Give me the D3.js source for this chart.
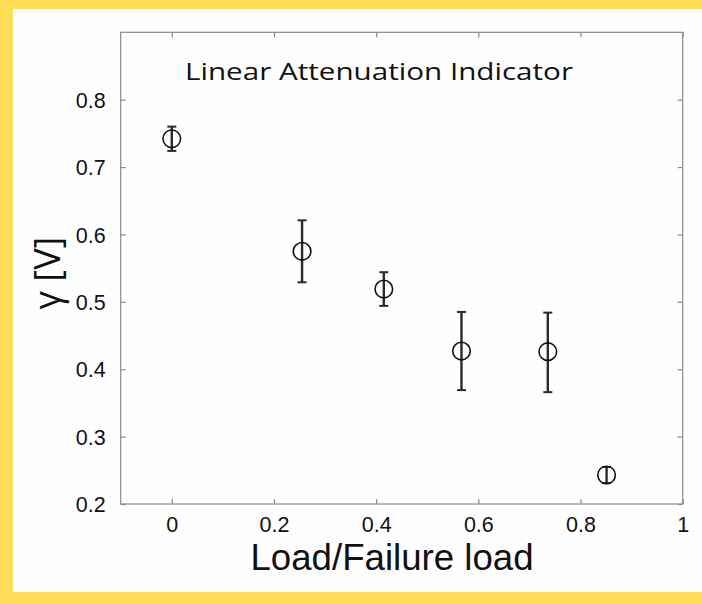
<!DOCTYPE html>
<html>
<head>
<meta charset="utf-8">
<script src="https://cdn.jsdelivr.net/npm/d3@7"></script>
<style>
  html, body { margin: 0; padding: 0; background: #FFDD57; }
  svg { display: block; }
</style>
</head>
<body>
<script>
// Data
const loadRatio = [0, 0.255, 0.415, 0.567, 0.736, 0.851];
const gammaValues = [0.742, 0.575, 0.519, 0.427, 0.426, 0.243];
const errLow = [0.018, 0.046, 0.025, 0.058, 0.060, 0.012];
const errHigh = [0.018, 0.046, 0.025, 0.058, 0.058, 0.012];
const xTicks = [0, 0.2, 0.4, 0.6, 0.8, 1];
const xTickLabels = ["0", "0.2", "0.4", "0.6", "0.8", "1"];
const yTicks = [0.2, 0.3, 0.4, 0.5, 0.6, 0.7, 0.8];
const yTickLabels = ["0.2", "0.3", "0.4", "0.5", "0.6", "0.7", "0.8"];
const titleText = "Linear Attenuation Indicator";
const xLabel = "Load/Failure load";
const yLabel = "γ [V]";

(function () {
const W = 702, H = 604;
const svg = d3.select("body").append("svg").attr("width", W).attr("height", H);

// white panel
svg.append("rect").attr("x", 13).attr("y", 9).attr("width", W - 13).attr("height", 583).attr("fill", "#fefefe");

const pL = 120.7, pR = 682.7, pT = 32.3, pB = 504;
const x = d3.scaleLinear().domain([-0.1, 1]).range([pL, pR]);
const y = d3.scaleLinear().domain([0.2, 0.9]).range([pB, pT]);

const font = "'Open Sans', 'Noto Sans', sans-serif";
const tickFont = "'Liberation Sans', Arial, sans-serif";
const axisColor = "#8a8a8a";

// box
svg.append("rect").attr("x", pL).attr("y", pT).attr("width", pR - pL).attr("height", pB - pT)
  .attr("fill", "none").attr("stroke", axisColor).attr("stroke-width", 1.2);

// axes with inward ticks
const xAxisB = d3.axisBottom(x).tickValues(xTicks).tickSizeInner(-5).tickSizeOuter(0).tickFormat((d, i) => xTickLabels[i]).tickPadding(0);
const gxb = svg.append("g").attr("transform", `translate(0,${pB})`).call(xAxisB);
const xAxisT = d3.axisTop(x).tickValues(xTicks).tickSizeInner(-5).tickSizeOuter(0).tickFormat("");
const gxt = svg.append("g").attr("transform", `translate(0,${pT})`).call(xAxisT);
const yAxisL = d3.axisLeft(y).tickValues(yTicks).tickSizeInner(-5).tickSizeOuter(0).tickFormat((d, i) => yTickLabels[i]).tickPadding(15);
const gyl = svg.append("g").attr("transform", `translate(${pL},0)`).call(yAxisL);
const yAxisR = d3.axisRight(y).tickValues(yTicks).tickSizeInner(-5).tickSizeOuter(0).tickFormat("");
const gyr = svg.append("g").attr("transform", `translate(${pR},0)`).call(yAxisR);

[gxb, gxt, gyl, gyr].forEach(g => {
  g.select(".domain").remove();
  g.selectAll(".tick line").attr("stroke", axisColor).attr("stroke-width", 1.2);
  g.selectAll(".tick text").attr("fill", "#111").attr("font-family", tickFont).attr("font-size", 21.5);
});
gxb.selectAll(".tick text").attr("y", 27.5).attr("dy", null);
gyl.selectAll(".tick text").attr("dy", "0.36em");

// title
svg.append("text").attr("x", 379).attr("y", 80).attr("text-anchor", "middle")
  .attr("font-family", font).attr("font-size", 24).attr("fill", "#111")
  .attr("textLength", 388).attr("lengthAdjust", "spacingAndGlyphs").text(titleText);

// x label
svg.append("text").attr("x", 392).attr("y", 570).attr("text-anchor", "middle")
  .attr("font-family", tickFont).attr("font-size", 36.5).attr("fill", "#111")
  .attr("textLength", 283).attr("lengthAdjust", "spacingAndGlyphs").text(xLabel);

// y label
svg.append("text").attr("transform", "translate(60,273) rotate(-90)").attr("text-anchor", "middle")
  .attr("font-family", font).attr("font-size", 36).attr("fill", "#111").text(yLabel);

// error bars
const pts = loadRatio.map((v, i) => ({ x: v, y: gammaValues[i], lo: gammaValues[i] - errLow[i], hi: gammaValues[i] + errHigh[i] }));
const eb = svg.append("g").attr("stroke", "#2a2a2a").attr("stroke-width", 2.4);
pts.forEach(p => {
  eb.append("line").attr("x1", x(p.x)).attr("x2", x(p.x)).attr("y1", y(p.lo)).attr("y2", y(p.hi));
  eb.append("line").attr("x1", x(p.x) - 4.5).attr("x2", x(p.x) + 4.5).attr("y1", y(p.lo)).attr("y2", y(p.lo)).attr("stroke-width", 2);
  eb.append("line").attr("x1", x(p.x) - 4.5).attr("x2", x(p.x) + 4.5).attr("y1", y(p.hi)).attr("y2", y(p.hi)).attr("stroke-width", 2);
});

svg.append("g").selectAll("circle").data(pts).join("circle")
  .attr("cx", d => x(d.x)).attr("cy", d => y(d.y)).attr("r", 8.8)
  .attr("fill", "none").attr("stroke", "#111").attr("stroke-width", 1.6);
})();
</script>
</body>
</html>
